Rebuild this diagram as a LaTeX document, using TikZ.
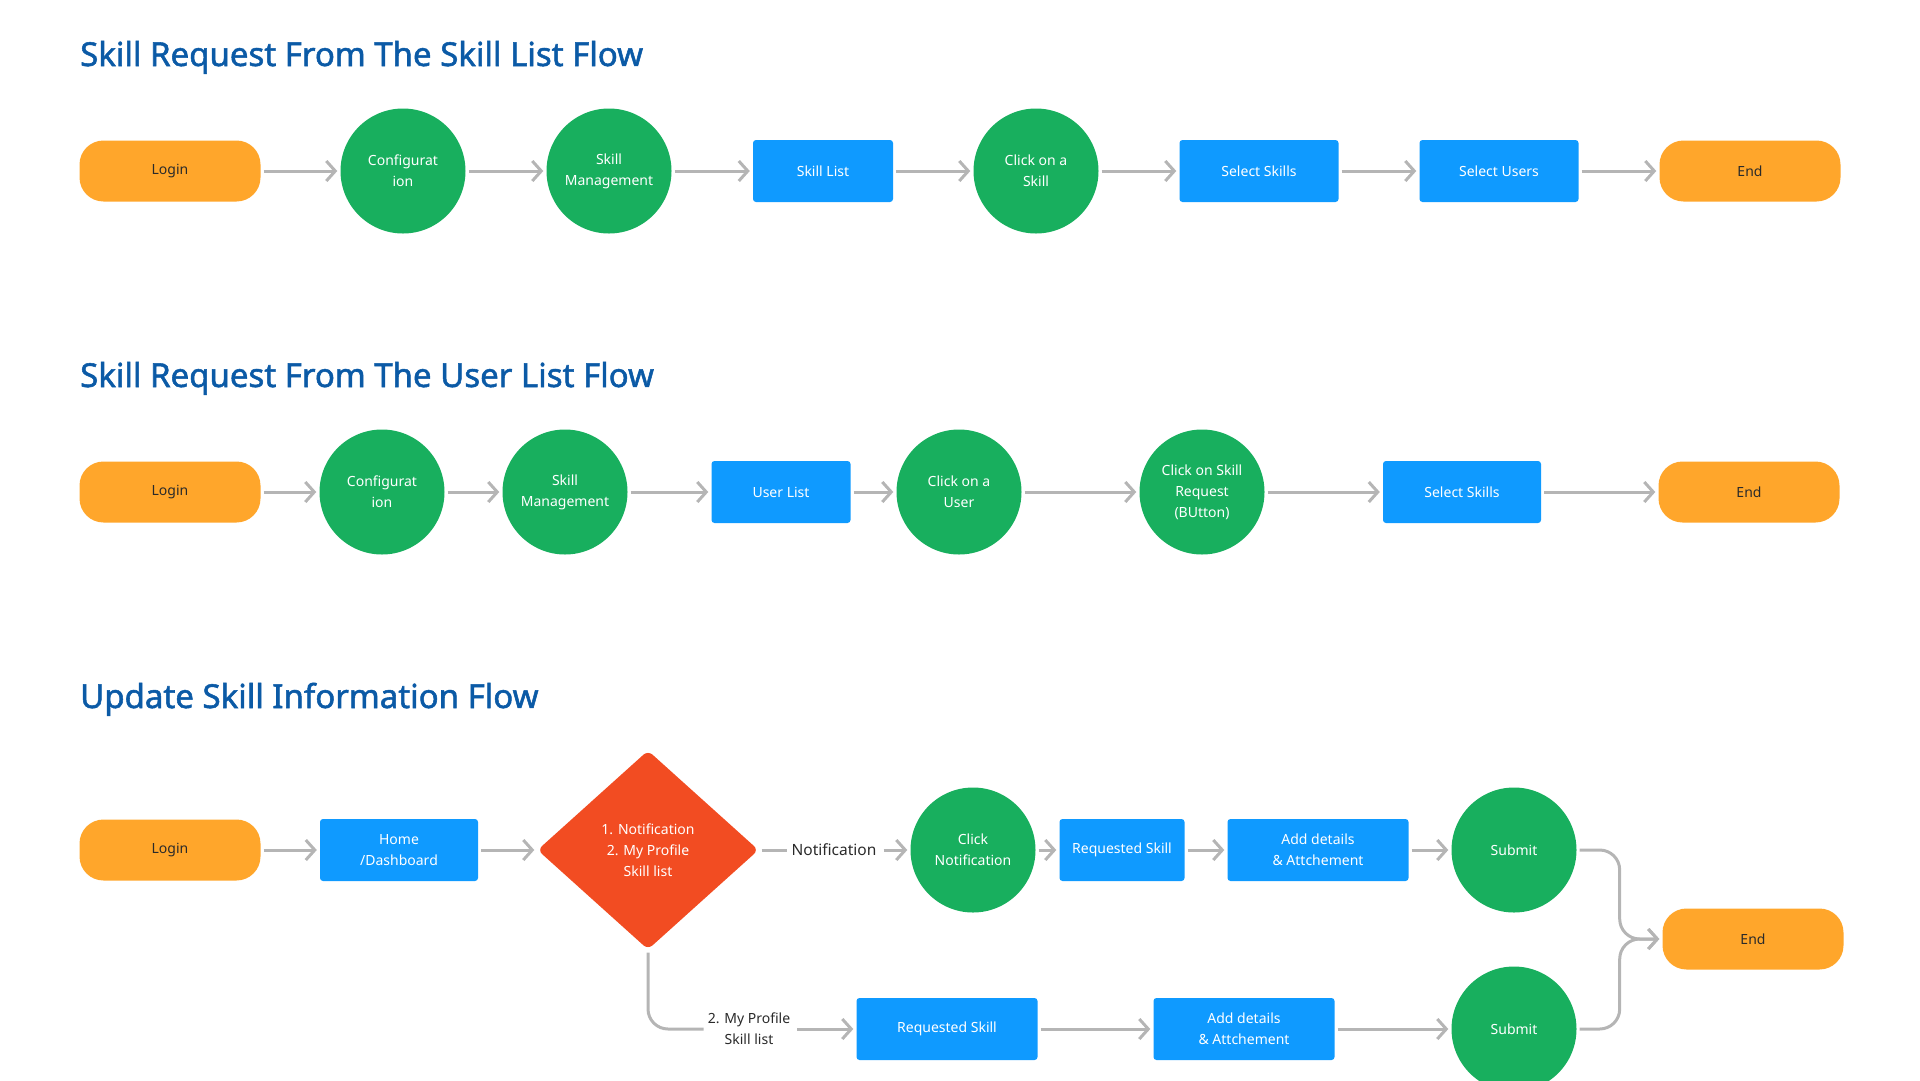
\documentclass[tikz,border=0pt]{standalone}
\usepackage{fontspec}
\setmainfont{Noto Sans}
\newfontfamily\ttlfont[FakeBold=1.6]{Noto Sans}
\usetikzlibrary{positioning, arrows.meta, shapes.geometric}

\definecolor{termorange}{HTML}{FFA62B}
\definecolor{actgreen}{HTML}{18AF5E}
\definecolor{procblue}{HTML}{0F9AFF}
\definecolor{decired}{HTML}{F24C22}
\definecolor{flowgray}{HTML}{B5B5B5}
\definecolor{ttlblue}{HTML}{0B5AA6}
\definecolor{txtdark}{HTML}{2A2A2A}

\tikzset{
  term/.style={fill=termorange, text=txtdark, rounded corners=24pt, minimum width=181pt, minimum height=61pt, inner sep=0pt},
  proc/.style={fill=procblue, text=white, rounded corners=3pt, minimum height=62pt, inner sep=0pt, align=center},
  act/.style={circle, fill=actgreen, text=white, minimum size=125pt, inner sep=0pt, align=center},
  deci/.style={diamond, fill=decired, text=white, rounded corners=6pt, minimum width=221pt, minimum height=199pt, inner sep=0pt, align=center},
  flow/.style={draw=flowgray, line width=3pt, -{Straight Barb[length=9pt,width=20pt]}, shorten <=3pt, shorten >=3pt},
  link/.style={draw=flowgray, line width=3pt, shorten <=3pt},
  lbl/.style={text=txtdark, inner sep=4pt, align=center},
  ttl/.style={anchor=base west, text=ttlblue, font=\ttlfont\fontsize{33}{38}\selectfont, inner sep=0pt}
}

\begin{document}
\begin{tikzpicture}[x=1pt, y=-1pt, font=\fontsize{14}{21}\selectfont]
    \useasboundingbox (0,0) rectangle (1920,1080);
    \clip (0,0) rectangle (1920,1080);

    % skill list flow
    \node[ttl] (ttl1) at (80,66) {Skill Request From The Skill List Flow};
    \node[term] (login1) at (170,171) {Login};
    \node[act] (conf1) at (403,171) {Configurat\\ion};
    \node[act] (mgmt1) at (609,171) {Skill\\Management};
    \node[proc, minimum width=140pt] (slist1) at (823,171) {Skill List};
    \node[act] (click1) at (1036,171) {Click on a\\Skill};
    \node[proc, minimum width=159pt] (sel1) at (1259,171) {Select Skills};
    \node[proc, minimum width=159pt] (usr1) at (1499,171) {Select Users};
    \node[term] (end1) at (1750,171) {End};
    \foreach \a/\b in {login1/conf1, conf1/mgmt1, mgmt1/slist1, slist1/click1, click1/sel1, sel1/usr1, usr1/end1}
        \draw[flow] (\a) -- (\b);

    % user list flow
    \node[ttl] (ttl2) at (80,387) {Skill Request From The User List Flow};
    \node[term] (login2) at (170,492) {Login};
    \node[act] (conf2) at (382,492) {Configurat\\ion};
    \node[act] (mgmt2) at (565,492) {Skill\\Management};
    \node[proc, minimum width=139pt] (ulist2) at (781,492) {User List};
    \node[act] (click2) at (959,492) {Click on a\\User};
    \node[act] (btn2) at (1202,492) {Click on Skill\\Request\\(BUtton)};
    \node[proc, minimum width=158pt] (sel2) at (1462,492) {Select Skills};
    \node[term] (end2) at (1749,492) {End};
    \foreach \a/\b in {login2/conf2, conf2/mgmt2, mgmt2/ulist2, ulist2/click2, click2/btn2, btn2/sel2, sel2/end2}
        \draw[flow] (\a) -- (\b);

    % update flow
    \node[ttl] (ttl3) at (80,708) {Update Skill Information Flow};
    \node[term] (login3) at (170,850) {Login};
    \node[proc, minimum width=158pt] (home3) at (399,850) {Home\\/Dashboard};
    \node[deci] (dia3) at (648,850) {1. Notification\\2. My Profile\\Skill list};
    \node[lbl, font=\fontsize{15.5}{21}\selectfont] (nlbl3) at (834,850) {Notification};
    \node[act] (cnot3) at (973,850) {Click\\Notification};
    \node[proc, minimum width=125pt] (req3) at (1122,850) {Requested Skill};
    \node[proc, minimum width=181pt] (add3) at (1318,850) {Add details\\\& Attchement};
    \node[act] (sub3) at (1514,850) {Submit};
    \node[term] (end3) at (1753,939) {End};
    \node[lbl] (plbl3) at (749,1029) {2. My Profile\\Skill list};
    \node[proc, minimum width=181pt] (req4) at (947,1029) {Requested Skill};
    \node[proc, minimum width=181pt] (add4) at (1244,1029) {Add details\\\& Attchement};
    \node[act] (sub4) at (1514,1029) {Submit};

    \draw[flow] (login3) -- (home3);
    \draw[flow] (home3) -- (dia3);
    \draw[link] (dia3) -- (nlbl3);
    \foreach \a/\b in {nlbl3/cnot3, cnot3/req3, req3/add3, add3/sub3, plbl3/req4, req4/add4, add4/sub4}
        \draw[flow] (\a) -- (\b);
    \draw[link, rounded corners=20pt] (dia3.south) |- (plbl3.west);
    \draw[flow, rounded corners=20pt] (sub3.east) -- ++(43,0) |- (end3.west);
    \draw[flow, rounded corners=20pt] (sub4.east) -- ++(43,0) |- (end3.west);
\end{tikzpicture}
\end{document}
